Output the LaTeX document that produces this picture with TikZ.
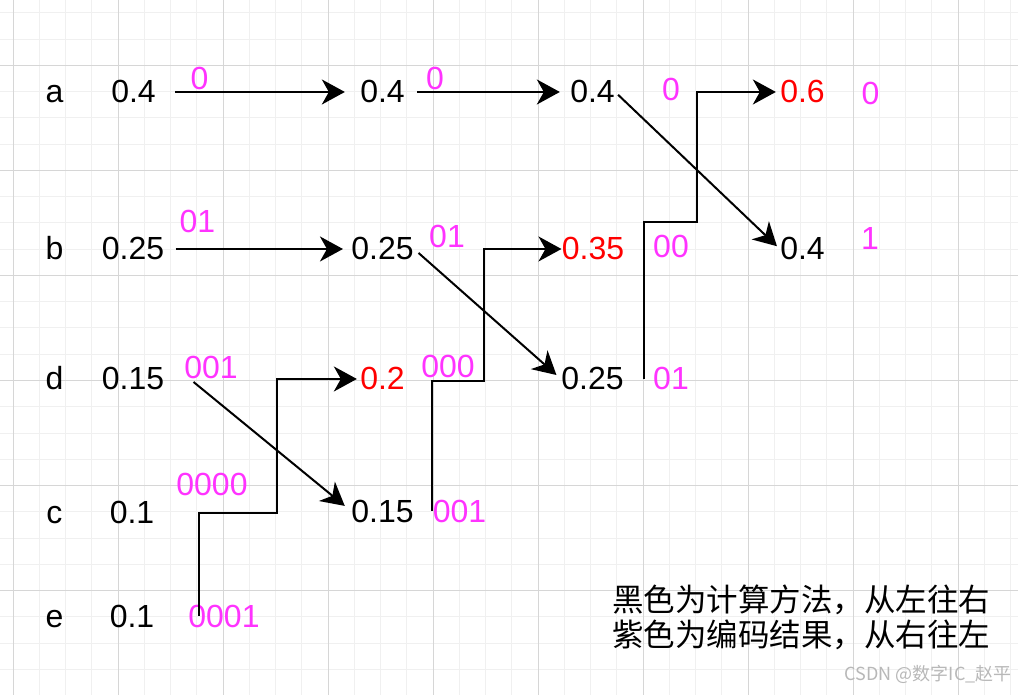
\documentclass[tikz,border=0pt]{standalone}
\usepackage{fontspec}
\setmainfont{Liberation Sans}
\newfontfamily\cjk{Noto Sans CJK SC}
\usepackage{xcolor}
\usetikzlibrary{arrows.meta, positioning, calc}
\definecolor{codemag}{HTML}{FF33FF}
\definecolor{sumred}{HTML}{FF0000}
\definecolor{gridmin}{HTML}{F0F0F0}
\definecolor{gridmaj}{HTML}{D6D6D6}
\tikzset{
  txt/.style={inner sep=0pt, anchor=base, font=\fontsize{16}{19}\selectfont},
  val/.style={txt},
  sumval/.style={txt, text=sumred},
  code/.style={txt, text=codemag},
  cnote/.style={inner sep=0pt, align=left, font=\cjk\fontsize{15.75}{17.5}\selectfont},
  wmark/.style={inner sep=0pt, text=black!28, font=\cjk\fontsize{9}{11}\selectfont},
  arr/.style={-{Stealth[length=11.5pt, width=12.5pt, inset=3.5pt]}, line width=1pt},
  gmin/.style={draw=gridmin, line width=0.5pt},
  gmaj/.style={draw=gridmaj, line width=0.5pt},
}
\begin{document}
\begin{tikzpicture}[x=0.5pt, y=-0.5pt]
  \useasboundingbox (0,0) rectangle (1018,695);
  \fill[white] (0,0) rectangle (1018,695);
  \foreach \gx in {0,...,38} \draw[gmin] (13+26.25*\gx,0) -- (13+26.25*\gx,695);
  \foreach \gy in {0,...,25} \draw[gmin] (0,13+26.25*\gy) -- (1018,13+26.25*\gy);
  \foreach \gx in {0,...,9} \draw[gmaj] (13+105*\gx,0) -- (13+105*\gx,695);
  \foreach \gy in {0,...,5} \draw[gmaj] (0,65.5+105*\gy) -- (1018,65.5+105*\gy);

  \node[txt] (la) at (54.5,103) {a};
  \node[txt] (lb) at (54.5,260) {b};
  \node[txt] (ld) at (54.5,390) {d};
  \node[txt] (lc) at (54.5,523) {c};
  \node[txt] (le) at (54.5,627) {e};

  \node[val] (a1) at (133.5,103) {0.4};
  \node[val] (a2) at (382.5,103) {0.4};
  \node[val] (a3) at (592.5,103) {0.4};
  \node[sumval] (a4) at (802.5,103) {0.6};
  \node[val] (b1) at (133,260) {0.25};
  \node[val] (b2) at (382.5,260) {0.25};
  \node[sumval] (b3) at (593,260) {0.35};
  \node[val] (b4) at (802.5,260) {0.4};
  \node[val] (d1) at (133,390) {0.15};
  \node[sumval] (d2) at (382.5,390) {0.2};
  \node[val] (d3) at (592.5,390) {0.25};
  \node[val] (c1) at (132,523) {0.1};
  \node[val] (c2) at (382.5,522) {0.15};
  \node[val] (e1) at (132,627) {0.1};

  \node[code] (ka1) at (199.5,89.5) {0};
  \node[code] (ka2) at (435,89.5) {0};
  \node[code] (ka3) at (671,101) {0};
  \node[code] (ka4) at (870.5,105) {0};
  \node[code] (kb1) at (197.5,233) {01};
  \node[code] (kb2) at (447,248) {01};
  \node[code] (kb3) at (671,258) {00};
  \node[code] (kb4) at (870,250) {1};
  \node[code] (kd1) at (211,379) {001};
  \node[code] (kd2) at (448,378) {000};
  \node[code] (kd3) at (671,390) {01};
  \node[code] (kc1) at (212,495) {0000};
  \node[code] (kc2) at (459.5,522) {001};
  \node[code] (ke1) at (224,627) {0001};

  \draw[arr, shorten <=9.5pt, shorten >=7.5pt] (a1) -- (a2);
  \draw[arr, shorten <=6pt, shorten >=5pt] (a2) -- (a3);
  \draw[arr, shorten <=2pt, shorten >=2pt] (a3.east) -- (b4.west);
  \draw[arr, shorten <=5.5pt, shorten >=4pt] (b1) -- (b2);
  \draw[arr, shorten <=3pt, shorten >=3pt] (b2.east) -- (d3.west);
  \draw[arr, shorten >=4pt] ([xshift=14.5pt, yshift=-1.5pt]d1.east) -- (c2.west);
  \draw[arr, shorten >=2pt] ([xshift=-4.5pt]kd3.west) -- ++(0,-156.5) -- ++(53,0) |- (a4);
  \draw[arr] (kc2.west) -- ++(0,-129.5) -- ++(52,0) |- (b3);
  \draw[arr, shorten >=1.5pt] ([xshift=5.3pt]ke1.west) -- ++(0,-102.5) -- ++(78,0) |- (d2);

  \node[cnote, anchor=west] (note) at (612,617.5) {黑色为计算方法，从左往右\\紫色为编码结果，从右往左};
  \node[wmark, anchor=base east] (mark) at (1012,680) {CSDN @数字IC\_赵平};
\end{tikzpicture}
\end{document}
